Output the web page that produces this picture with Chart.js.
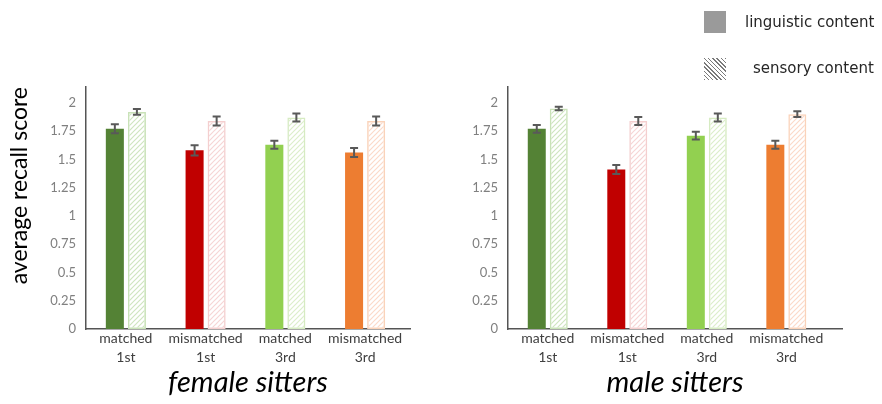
<html>
<head>
  <script src="https://cdn.jsdelivr.net/npm/chart.js"></script>
  <title>average recall score</title>
  <style>
    body { margin: 0; background: #fff; width: 882px; height: 404px; position: relative; overflow: hidden; }
    canvas { position: absolute; top: 0; }
    .legend-box { position: absolute; left: 704px; width: 22px; height: 22px; }
    .legend-text { position: absolute; font-family: "DejaVu Sans"; font-size: 15px; color: #262626; line-height: 20px; }
  </style>
</head>
<body>
  <canvas id="femaleChart" width="430" height="404" style="left:0;"></canvas>
  <canvas id="maleChart" width="452" height="404" style="left:430px;"></canvas>

  <!-- legend -->
  <div class="legend-box" style="top:11px;background:#9a9a9a;"></div>
  <div class="legend-text" style="left:745px;top:12px;">linguistic content</div>
  <div class="legend-box" style="top:58px;background:repeating-linear-gradient(45deg,#7a7a7a 0 1px,#fff 1px 3px);"></div>
  <div class="legend-text" style="left:753px;top:58px;">sensory content</div>

  <script>
    // data
    const categories = [["matched", "1st"], ["mismatched", "1st"], ["matched", "3rd"], ["mismatched", "3rd"]];
    const femaleLinguistic = [1.77, 1.58, 1.63, 1.56];
    const femaleLinguisticErr = [0.04, 0.045, 0.035, 0.04];
    const femaleSensory = [1.92, 1.84, 1.87, 1.84];
    const femaleSensoryErr = [0.025, 0.04, 0.035, 0.04];
    const maleLinguistic = [1.77, 1.41, 1.71, 1.63];
    const maleLinguisticErr = [0.035, 0.04, 0.035, 0.035];
    const maleSensory = [1.95, 1.84, 1.87, 1.90];
    const maleSensoryErr = [0.015, 0.035, 0.035, 0.025];
    const tickStep = 0.25;

    const solidColors = ["#548235", "#C00000", "#92D050", "#ED7D31"];
    const hatchBorders = ["#C9E2B8", "#F4CFCF", "#D6EBC2", "#FAD3BA"];
    const hatchLines = ["#CFE5C0", "#F6D6D6", "#DCEECB", "#FBDACA"];

    Chart.defaults.font.family = "Lato";

    // diagonal hatch fill for the "sensory" bars
    function makeHatch(color) {
      const c = document.createElement("canvas");
      c.width = 5;
      c.height = 5;
      const g = c.getContext("2d");
      g.strokeStyle = color;
      g.lineWidth = 1.2;
      g.beginPath();
      g.moveTo(0, 5); g.lineTo(5, 0);
      g.moveTo(-1, 1); g.lineTo(1, -1);
      g.moveTo(4, 6); g.lineTo(6, 4);
      g.stroke();
      return g.createPattern(c, "repeat");
    }

    // category index -> {x, y} so the x axis can run past the last group like excel does
    function toPoints(values) {
      return values.map((v, i) => ({ x: i, y: v }));
    }

    const errorBars = {
      id: "errorBars",
      afterDatasetsDraw(chart) {
        const { ctx } = chart;
        const yScale = chart.scales.y;
        ctx.save();
        ctx.strokeStyle = "#595959";
        ctx.lineWidth = 2;
        chart.data.datasets.forEach((ds, di) => {
          const meta = chart.getDatasetMeta(di);
          meta.data.forEach((bar, i) => {
            const v = ds.data[i].y, e = ds.errors[i];
            const top = yScale.getPixelForValue(v + e);
            const bot = yScale.getPixelForValue(v - e);
            ctx.beginPath();
            ctx.moveTo(bar.x, top); ctx.lineTo(bar.x, bot);
            ctx.moveTo(bar.x - 4, top); ctx.lineTo(bar.x + 4, top);
            ctx.moveTo(bar.x - 4, bot); ctx.lineTo(bar.x + 4, bot);
            ctx.stroke();
          });
        });
        ctx.restore();
      },
    };

    function makeChart(id, title, linguistic, linguisticErr, sensory, sensoryErr, opt) {
      const ctx = document.getElementById(id).getContext("2d");
      return new Chart(ctx, {
        type: "bar",
        data: {
          datasets: [
            {
              label: "linguistic content",
              data: toPoints(linguistic),
              errors: linguisticErr,
              backgroundColor: solidColors,
              borderWidth: 0,
              barPercentage: 0.818,
              categoryPercentage: 0.553,
            },
            {
              label: "sensory content",
              data: toPoints(sensory),
              errors: sensoryErr,
              backgroundColor: hatchLines.map(makeHatch),
              borderColor: hatchBorders,
              borderWidth: 1.5,
              borderSkipped: false,
              barPercentage: 0.818,
              categoryPercentage: 0.553,
            },
          ],
        },
        options: {
          responsive: false,
          animation: false,
          layout: { padding: { top: 87, right: opt.padRight, left: 0, bottom: 0 } },
          scales: {
            x: {
              type: "linear",
              offset: false,
              min: -0.5,
              max: categories.length - 0.5 + opt.tail,
              grid: { display: false, drawTicks: false, offset: false },
              border: { color: "#555", width: 1.5 },
              afterBuildTicks(scale) {
                scale.ticks = categories.map((c, i) => ({ value: i }));
              },
              ticks: {
                padding: 0,
                autoSkip: false,
                maxRotation: 0,
                color: "#404040",
                font: { size: 14, lineHeight: 1.35 },
                callback: (v) => categories[v] || "",
              },
              title: {
                display: true,
                text: title,
                color: "#000",
                font: { size: 29, style: "italic", lineHeight: 1.2 },
                padding: { top: 0, bottom: 4 },
              },
              afterFit(scale) { scale.height = 75; },
            },
            y: {
              min: 0,
              max: 2.14,
              grid: { display: false, drawTicks: false },
              border: { color: "#555", width: 1.5 },
              ticks: {
                stepSize: tickStep,
                padding: 10,
                color: "#808080",
                font: { size: 13 },
                callback: (v) => String(v),
              },
              afterBuildTicks(scale) {
                scale.ticks = scale.ticks.filter((t) => Math.abs(t.value / tickStep - Math.round(t.value / tickStep)) < 1e-6);
              },
              title: {
                display: opt.yTitle,
                text: "average recall score",
                align: "end",
                color: "#000",
                font: { size: 23 },
                padding: { top: 6, bottom: 0 },
              },
              afterFit(scale) { scale.width = opt.yWidth; },
            },
          },
          plugins: {
            legend: { display: false },
            tooltip: { enabled: false },
          },
        },
        plugins: [errorBars],
      });
    }

    makeChart("femaleChart", "female sitters", femaleLinguistic, femaleLinguisticErr, femaleSensory, femaleSensoryErr,
      { padRight: 20, yWidth: 86, yTitle: true, tail: 0.063 });
    makeChart("maleChart", "male sitters", maleLinguistic, maleLinguisticErr, maleSensory, maleSensoryErr,
      { padRight: 40, yWidth: 78, yTitle: false, tail: 0.2 });
  </script>
</body>
</html>
